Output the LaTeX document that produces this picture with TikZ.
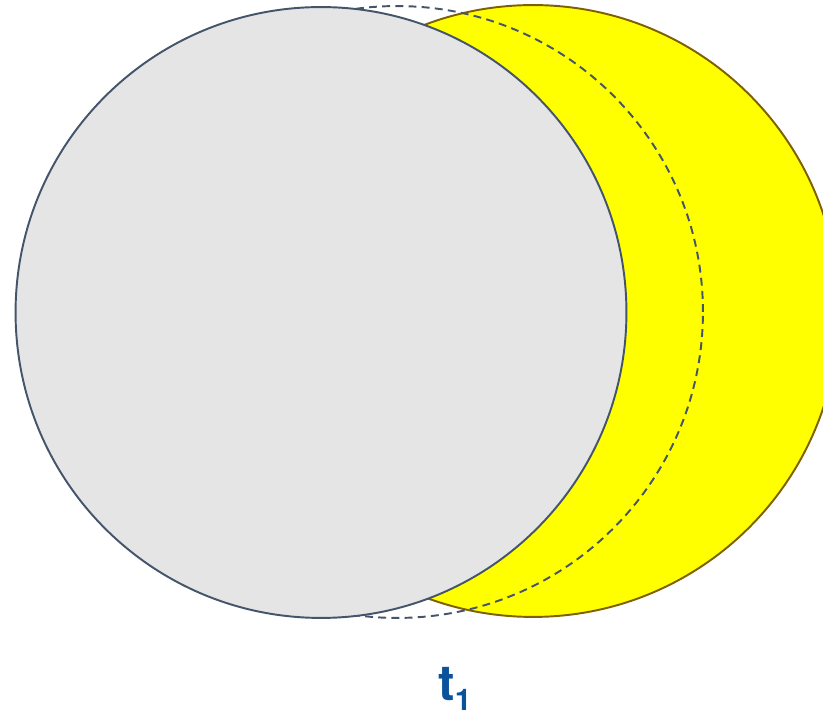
\documentclass[tikz,border=0pt]{standalone}
\usepackage{fontspec}
\newfontfamily\labfont{TeX Gyre Heros}
\usepackage{xcolor}
\usetikzlibrary{positioning}
\definecolor{edgec}{HTML}{44546A}
\definecolor{greyc}{HTML}{E5E5E5}
\definecolor{sunc}{HTML}{FFFF00}
\definecolor{sunedge}{HTML}{7F6000}
\definecolor{labc}{HTML}{0B529C}
\tikzset{
  disc/.style={circle,inner sep=0pt,minimum size=12.24cm,line width=1.1pt},
  ghost/.style={disc,draw=edgec,dash pattern=on 4.5pt off 3pt},
  lab/.style={text=labc,inner sep=0pt,font=\labfont\bfseries}
}
\begin{document}
\begin{tikzpicture}[x=0.02cm,y=-0.02cm]
\useasboundingbox (0,0) rectangle (823,715);
\clip (0,0) rectangle (823,715);
% moving disc and its earlier place
\node[disc,draw=sunedge,fill=sunc] (sun) at (533,311) {};
\node[ghost] (prev) at (397,312) {};
\node[disc,draw=edgec,fill=greyc,minimum size=12.22cm] (moon) at (321,312.5) {};
% time label
\node[lab,anchor=base] (t1) at (455,701) {{\fontsize{28}{30}\selectfont t}\raisebox{-5.2pt}{\fontsize{17}{20}\selectfont 1}};
\end{tikzpicture}
\end{document}
